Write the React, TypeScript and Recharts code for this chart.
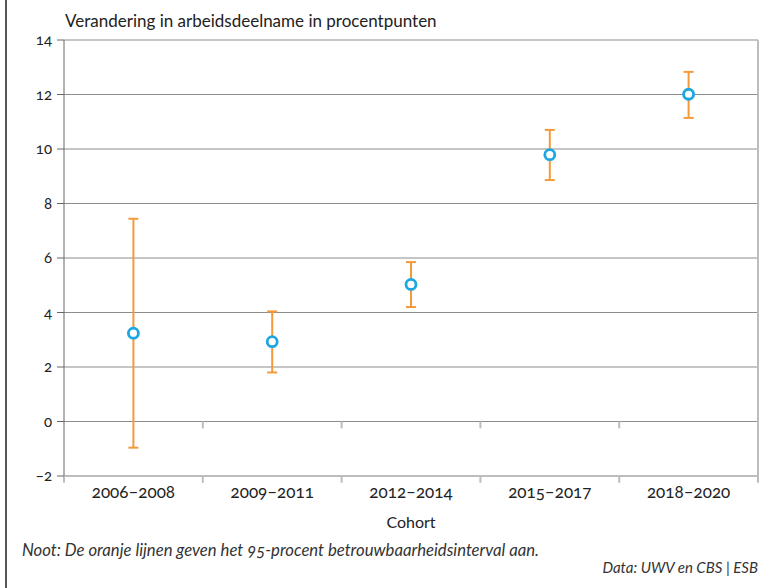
import React from "react";
import {
  ComposedChart,
  Line,
  XAxis,
  YAxis,
  CartesianGrid,
  ErrorBar,
  ReferenceLine,
  Label,
} from "recharts";

const categories = ["2006–2008", "2009–2011", "2012–2014", "2015–2017", "2018–2020"];
const values = [3.24, 2.93, 5.03, 9.79, 12.01];
const lower = [-0.96, 1.8, 4.2, 8.86, 11.14];
const upper = [7.44, 4.04, 5.85, 10.7, 12.83];
const yTicks = [-2, 0, 2, 4, 6, 8, 10, 12, 14];

const data = categories.map((c, i) => ({
  cohort: c,
  value: values[i],
  err: [values[i] - lower[i], upper[i] - values[i]],
}));

const TICK = 0.25;
const last = categories[categories.length - 1];

const FONT = "Lato, 'Open Sans', sans-serif";
const GRID = "#8c8c8c";
const LIGHT = "#bdbdbd";
const ORANGE = "#f39a3b";
const BLUE = "#1ca6e2";

const fmt = (v: number) => (v < 0 ? "−" + Math.abs(v) : String(v));

const Marker = (props: any) => {
  const { cx, cy } = props;
  if (cx == null || cy == null) return null;
  return <circle cx={cx} cy={cy} r={5} fill="#fff" stroke={BLUE} strokeWidth={2.8} />;
};

// small tick marks on the band boundaries, below a given y value
const boundaryTicks = (y: number, withEnds: boolean) => {
  const list = categories
    .filter((_, i) => withEnds || i > 0)
    .map((c) => (
      <ReferenceLine
        key={"t" + y + c}
        position="start"
        ifOverflow="visible"
        stroke={LIGHT}
        strokeWidth={2}
        segment={[
          { x: c, y },
          { x: c, y: y - TICK },
        ]}
      />
    ));
  if (withEnds) {
    list.push(
      <ReferenceLine
        key={"te" + y}
        position="end"
        ifOverflow="visible"
        stroke={LIGHT}
        strokeWidth={2}
        segment={[
          { x: last, y },
          { x: last, y: y - TICK },
        ]}
      />
    );
  }
  return list;
};

export default function App() {
  return (
    <div
      style={{
        position: "absolute",
        left: 0,
        top: 0,
        width: 775,
        height: 588,
        background: "#fff",
        fontFamily: FONT,
        fontVariantNumeric: "oldstyle-nums",
        color: "#222",
        overflow: "hidden",
      }}
    >
      <div
        style={{
          position: "absolute",
          left: 5,
          top: 0,
          width: 2,
          height: 588,
          background: "#555",
        }}
      />
      <div style={{ position: "absolute", left: 65, top: 10, fontSize: 17 }}>
        Verandering in arbeidsdeelname in procentpunten
      </div>
      <ComposedChart
        width={775}
        height={588}
        data={data}
        margin={{ top: 40, right: 17, left: 0, bottom: 60 }}
      >
        <CartesianGrid horizontal vertical={false} stroke={GRID} />
        <XAxis
          dataKey="cohort"
          type="category"
          scale="band"
          tickLine={false}
          axisLine={{ stroke: LIGHT, strokeWidth: 2 }}
          tickSize={8}
          tickMargin={2}
          height={52}
          tick={{ fill: "#222", fontSize: 17, fontFamily: FONT }}
        >
          <Label
            value="Cohort"
            position="insideBottom"
            offset={0}
            style={{ fill: "#222", fontSize: 16, fontFamily: FONT }}
          />
        </XAxis>
        <YAxis
          width={64}
          domain={[-2, 14]}
          ticks={yTicks}
          tickFormatter={fmt}
          axisLine={{ stroke: "#666" }}
          tickLine={{ stroke: "#666" }}
          tickSize={7}
          tickMargin={5}
          tick={{ fill: "#222", fontSize: 15, fontFamily: FONT }}
        />
        <ReferenceLine x={last} position="end" stroke={LIGHT} strokeWidth={2} />
        {boundaryTicks(-2, true)}
        {boundaryTicks(0, false)}
        <Line
          dataKey="value"
          stroke="none"
          isAnimationActive={false}
          dot={<Marker />}
          activeDot={false}
        >
          <ErrorBar dataKey="err" direction="y" width={5} stroke={ORANGE} strokeWidth={2} />
        </Line>
      </ComposedChart>
      <div
        style={{
          position: "absolute",
          left: 22,
          top: 540,
          fontSize: 16.7,
          fontStyle: "italic",
          color: "#333",
        }}
      >
        Noot: De oranje lijnen geven het 95-procent betrouwbaarheidsinterval aan.
      </div>
      <div
        style={{
          position: "absolute",
          right: 17,
          top: 558,
          fontSize: 15,
          fontStyle: "italic",
          color: "#333",
        }}
      >
        Data: UWV en CBS | ESB
      </div>
    </div>
  );
}
